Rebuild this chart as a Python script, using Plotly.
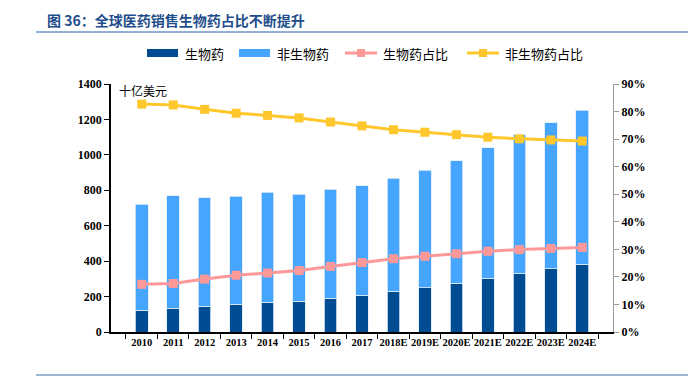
import plotly.graph_objects as go

years = ["2010", "2011", "2012", "2013", "2014", "2015", "2016", "2017",
         "2018E", "2019E", "2020E", "2021E", "2022E", "2023E", "2024E"]
bio = [124, 135, 145, 158, 169, 175, 191, 207, 231, 250, 274, 304, 332, 357, 383]
total = [721, 770, 757, 766, 790, 779, 805, 826, 869, 914, 968, 1040, 1113, 1181, 1252]
nonbio = [t - b for t, b in zip(total, bio)]
bio_share = [17.3, 17.6, 19.2, 20.6, 21.4, 22.3, 23.8, 25.2, 26.6, 27.5, 28.4, 29.3, 29.9, 30.3, 30.7]
nonbio_share = [82.7, 82.4, 80.8, 79.4, 78.6, 77.7, 76.2, 74.8, 73.4, 72.5, 71.6, 70.7, 70.1, 69.7, 69.3]

names = ["生物药", "非生物药", "生物药占比", "非生物药占比"]
colors = ["#004C93", "#45A5FF", "#FF9999", "#FFC72C"]

CJK = "Noto Sans CJK SC"
SERIF = "Liberation Serif"

# The page body has an 8px default margin; figure is sized to fill the rest of the window.
OFF = 8
FW, FH = 696 - OFF, 380 - OFF
# plot area in window pixels (as in the reference)
L, R, T, B = 111, 613, 84, 332
PW, PH = R - L, B - T


def px(x):
    return (x - L) / PW


def py(y):
    return (B - y) / PH


fig = go.Figure()
fig.add_trace(go.Bar(x=years, y=bio, name=names[0],
                     marker=dict(color=colors[0], line=dict(color="#DDEBF7", width=0.8)), width=0.4))
fig.add_trace(go.Bar(x=years, y=nonbio, name=names[1],
                     marker=dict(color=colors[1], line=dict(color="#DDEBF7", width=0.8)), width=0.4))
fig.add_trace(go.Scatter(x=years, y=bio_share, name=names[2], yaxis="y2", mode="lines+markers",
                         line=dict(color=colors[2], width=3),
                         marker=dict(symbol="square", size=9, color=colors[2])))
fig.add_trace(go.Scatter(x=years, y=nonbio_share, name=names[3], yaxis="y2", mode="lines+markers",
                         line=dict(color=colors[3], width=3),
                         marker=dict(symbol="square", size=9, color=colors[3])))

fig.update_layout(
    width=FW, height=FH,
    barmode="stack",
    plot_bgcolor="white", paper_bgcolor="white",
    margin=dict(l=L - OFF, r=696 - R, t=T - OFF, b=380 - B),
    showlegend=False,
    xaxis=dict(type="category", showline=True, linecolor="#000", linewidth=1.5,
               ticks="outside", tickson="boundaries", ticklen=5, tickcolor="#000",
               tickangle=0,
               tickfont=dict(family=SERIF, size=10.5, color="#000", weight="bold"),
               showgrid=False),
    yaxis=dict(range=[0, 1400], dtick=200, showline=True, linecolor="#000", linewidth=1.5,
               ticks="outside", ticklen=5, tickcolor="#000", showgrid=False, zeroline=False,
               tickfont=dict(family=SERIF, size=12, color="#000", weight="bold")),
    yaxis2=dict(range=[0, 90], dtick=10, overlaying="y", side="right", showline=True,
                linecolor="#999", linewidth=1.2, ticks="outside", ticklen=5, tickcolor="#999",
                ticksuffix="%", showgrid=False, zeroline=False,
                tickfont=dict(family=SERIF, size=12, color="#000", weight="bold")),
    title=dict(text="图 36：全球医药销售生物药占比不断提升", x=(47 - OFF) / FW, xanchor="left",
               y=1 - (21 - OFF) / FH, yanchor="middle",
               font=dict(family=CJK, size=14, color="#1F4E8C", weight="bold")),
)

# unit label
fig.add_annotation(text="十亿美元", xref="paper", yref="paper", x=px(117), y=py(80),
                   xanchor="left", yanchor="top", showarrow=False,
                   font=dict(family=CJK, size=12, color="#000"))

# title rule and bottom rule
fig.add_shape(type="line", xref="paper", yref="paper", x0=px(36), x1=px(696), y0=py(32), y1=py(32),
              line=dict(color="#6C98C6", width=1.5))
fig.add_shape(type="line", xref="paper", yref="paper", x0=px(36), x1=px(688), y0=py(375), y1=py(375),
              line=dict(color="#3A6EA5", width=1.2))

# custom legend (wide swatches as in the reference)
leg_y = 53
swatch_x = [147, 239, 345, 467]
for i, (nm, col, sx) in enumerate(zip(names, colors, swatch_x)):
    if i < 2:
        fig.add_shape(type="rect", xref="paper", yref="paper",
                      x0=px(sx), x1=px(sx + 31), y0=py(leg_y + 4), y1=py(leg_y - 4),
                      fillcolor=col, line=dict(width=0))
    else:
        fig.add_shape(type="line", xref="paper", yref="paper",
                      x0=px(sx), x1=px(sx + 32), y0=py(leg_y), y1=py(leg_y),
                      line=dict(color=col, width=3))
        fig.add_shape(type="rect", xref="paper", yref="paper",
                      x0=px(sx + 12), x1=px(sx + 20), y0=py(leg_y + 4), y1=py(leg_y - 4),
                      fillcolor=col, line=dict(width=0))
    fig.add_annotation(text=nm, xref="paper", yref="paper", x=px(sx + 36), y=py(leg_y),
                       xanchor="left", yanchor="middle", showarrow=False,
                       font=dict(family=CJK, size=13, color="#000"))

fig.write_html("out.html")
